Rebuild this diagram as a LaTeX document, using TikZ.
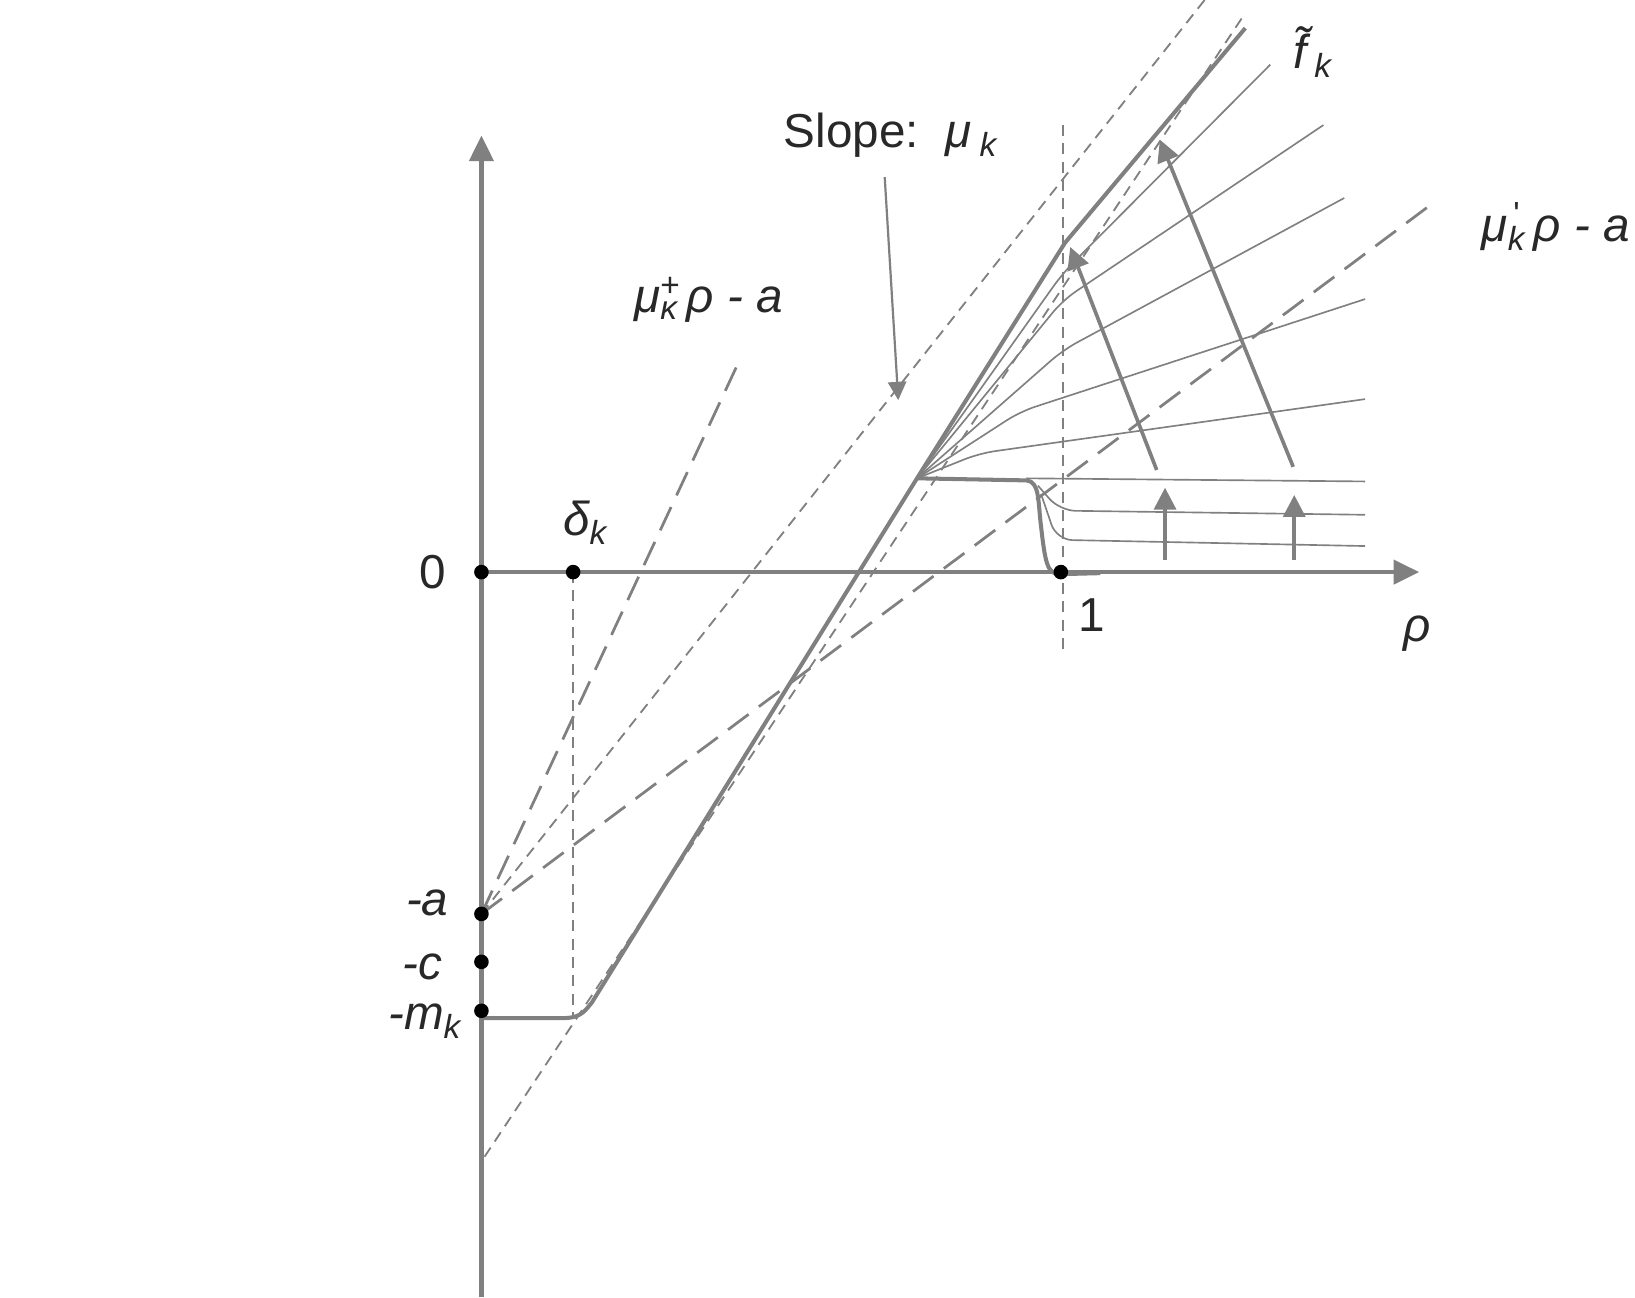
\documentclass[tikz,border=0pt]{standalone}
\usepackage{fontspec}
\setmainfont{Liberation Sans}
\usetikzlibrary{arrows.meta}
\definecolor{ln}{RGB}{128,128,128}
\definecolor{tx}{RGB}{40,40,40}
\tikzset{
  axisline/.style={draw=ln,line width=1.3pt},
  thickc/.style={draw=ln,line width=1.1pt},
  thinc/.style={draw=ln,line width=0.45pt,rounded corners=0.15cm},
  sdash/.style={draw=ln,line width=0.5pt,dash pattern=on 3pt off 2pt},
  ldash/.style={draw=ln,line width=0.75pt,dash pattern=on 7pt off 3.5pt},
  bigarrow/.style={draw=ln,line width=1pt,-{Triangle[width=6pt,length=6pt]}},
  dot/.style={circle,fill=black,inner sep=0pt,minimum size=0.14cm},
  lab/.style={text=tx,font=\fontsize{13}{15}\selectfont,inner sep=0pt},
}
\begin{document}
\begin{tikzpicture}[x=0.01cm,y=-0.01cm]
\useasboundingbox (0,0) rectangle (1569,1245);
% coordinates
\coordinate (ybot) at (462,1245);
\coordinate (ytop) at (462,130);
\coordinate (xl) at (462,549);
\coordinate (xr) at (1362,549);
\coordinate (O) at (880,459);
\coordinate (A) at (462,877);
% dashed guides
\draw[sdash] (550,549) -- (550,975);
\draw[sdash] (1020,120) -- (1020,628);
\draw[sdash] (465,1110) -- (1192,17);
\draw[sdash] (A) -- (1156,0);
\draw[ldash] (A) -- (710,345);
\draw[ldash] (A) -- (1375,195);
% axes
\draw[axisline,-{Triangle[width=6.5pt,length=7pt]}] (ybot) -- (ytop);
\draw[axisline,-{Triangle[width=6.5pt,length=7pt]}] (xl) -- (xr);
% fan of thin curves
\draw[thinc] (O) -- (1020,262) -- (1219,62);
\draw[thinc] (O) -- (1020,288) -- (1270,120);
\draw[thinc] (O) -- (1020,336) -- (1290,190);
\draw[thinc] (O) -- (979,395) -- (1310,287);
\draw[thinc] (O) -- (940,435) -- (1310,383);
\draw[thinc] (985,459) -- (1310,462);
\draw[thinc] (996,466) -- (1017,490) -- (1310,494);
\draw[thinc] (999,474) -- (1014,518) -- (1310,524);
% main thick curves
\draw[thickc] (462,977) -- (540,977) .. controls (556,977) and (560,972) .. (568,962) -- (O) -- (1022,233) -- (1195,27);
\draw[thickc] (O) -- (985,461) .. controls (998,462) and (996,482) .. (999,505) .. controls (1003,540) and (1005,551) .. (1017,551) -- (1056,550);
% arrows
\draw[bigarrow] (1118,537) -- (1118,468);
\draw[bigarrow] (1242,537) -- (1242,475);
\draw[bigarrow] (1110,451) -- (1027,237);
\draw[bigarrow] (1241,448) -- (1113,134);
\draw[draw=ln,line width=0.6pt,-{Triangle[width=5pt,length=5pt]}] (849,170) -- (862,384);
% dots
\node[dot] (d0) at (462,549) {};
\node[dot] (dd) at (550,549) {};
\node[dot] (d1) at (1018,549) {};
\node[dot] (da) at (A) {};
\node[dot] (dc) at (462,923) {};
\node[dot] (dm) at (462,970) {};
% labels
\node[lab] (l0) at (415,549) {0};
\node[lab] (ld) at (562,502) {\itshape δ\textsubscript{k}};
\node[lab] (l1) at (1048,590) {1};
\node[lab] (lr) at (1360,608) {\itshape ρ};
\node[lab] (la) at (410,866) {\itshape -a};
\node[lab] (lc) at (405,928) {\itshape -c};
\node[lab] (lm) at (408,980) {\itshape -m\textsubscript{k}};
\node[lab] (ls) at (855,130) {Slope:\ \ \itshape μ\,\textsubscript{k}};
\node[lab] (lf) at (1260,50) {\itshape \~{f}\,\textsubscript{k}};
\node[lab,anchor=east] (lmp) at (1565,218) {\itshape μ\makebox[0.55em][l]{\rlap{\textsuperscript{\,\upshape\textquotesingle}}\textsubscript{k}}ρ - a};
\node[lab] (lmpl) at (680,288) {\itshape μ\makebox[0.55em][l]{\rlap{\textsuperscript{\upshape +}}\textsubscript{κ}}ρ - a};
\end{tikzpicture}
\end{document}
